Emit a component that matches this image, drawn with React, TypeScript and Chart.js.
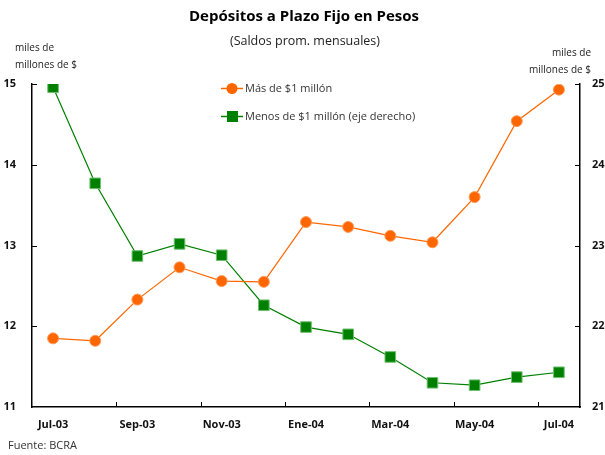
import React, { useEffect, useRef } from "react";
import { Chart, registerables } from "chart.js";

Chart.register(...registerables);

const categories = ["Jul-03", "Ago-03", "Sep-03", "Oct-03", "Nov-03", "Dic-03", "Ene-04", "Feb-04", "Mar-04", "Abr-04", "May-04", "Jun-04", "Jul-04"];
const masDeUnMillon = [11.85, 11.82, 12.33, 12.73, 12.56, 12.55, 13.29, 13.23, 13.12, 13.04, 13.6, 14.54, 14.93];
const menosDeUnMillon = [24.96, 23.77, 22.87, 23.02, 22.88, 22.26, 21.99, 21.9, 21.62, 21.3, 21.27, 21.37, 21.43];
const leftTicks = [11, 12, 13, 14, 15];
const rightTicks = [21, 22, 23, 24, 25];

const title = "Depósitos a Plazo Fijo en Pesos";
const subtitle = "(Saldos prom. mensuales)";
const unitLine1 = "miles de";
const unitLine2 = "millones de $";
const source = "Fuente: BCRA";
const legendLabels = ["Más de $1 millón", "Menos de $1 millón (eje derecho)"];

const ORANGE = "#ff6600";
const GREEN = "#008000";
const FONT = "'Open Sans', sans-serif";

const decorPlugin = {
  id: "decor",
  afterDraw(chart: any) {
    const ctx = chart.ctx;
    const area = chart.chartArea;
    const x = chart.scales.x;
    const yl = chart.scales.y;
    const yr = chart.scales.y1;
    ctx.save();
    // inward tick marks
    ctx.strokeStyle = "#000";
    ctx.lineWidth = 1;
    ctx.beginPath();
    for (let i = 2; i < categories.length; i += 2) {
      const px = Math.round((x.getPixelForValue(i) + x.getPixelForValue(i - 1)) / 2) + 0.5;
      ctx.moveTo(px, area.bottom);
      ctx.lineTo(px, area.bottom - 5);
    }
    for (const v of leftTicks.slice(1)) {
      const py = Math.round(yl.getPixelForValue(v)) + 0.5;
      ctx.moveTo(area.left, py);
      ctx.lineTo(area.left + 5, py);
    }
    for (const v of rightTicks.slice(1)) {
      const py = Math.round(yr.getPixelForValue(v)) + 0.5;
      ctx.moveTo(area.right, py);
      ctx.lineTo(area.right - 5, py);
    }
    ctx.stroke();

    // titles
    ctx.fillStyle = "#000";
    ctx.textAlign = "center";
    ctx.textBaseline = "middle";
    ctx.font = `bold 15px ${FONT}`;
    ctx.fillText(title, 304, 17);
    ctx.fillStyle = "#222";
    ctx.font = `12.5px ${FONT}`;
    ctx.fillText(subtitle, 305, 41);

    // unit labels
    ctx.font = `10px ${FONT}`;
    ctx.textAlign = "left";
    ctx.fillText(unitLine1, 15, 48);
    ctx.fillText(unitLine2, 15, 65);
    ctx.textAlign = "right";
    ctx.fillText(unitLine1, 591, 53);
    ctx.fillText(unitLine2, 591, 70);

    // source
    ctx.textAlign = "left";
    ctx.font = `11px ${FONT}`;
    ctx.fillStyle = "#333";
    ctx.fillText(source, 8, 446);

    // legend
    const colors = [ORANGE, GREEN];
    const ys = [88, 116];
    for (let i = 0; i < 2; i++) {
      const ly = ys[i];
      ctx.strokeStyle = colors[i];
      ctx.lineWidth = 1.5;
      ctx.beginPath();
      ctx.moveTo(221, ly + 0.5);
      ctx.lineTo(243, ly + 0.5);
      ctx.stroke();
      ctx.fillStyle = colors[i];
      if (i === 0) {
        ctx.beginPath();
        ctx.arc(232, ly + 0.5, 5.5, 0, Math.PI * 2);
        ctx.fill();
      } else {
        ctx.fillRect(227, ly - 5, 11, 11);
      }
      ctx.fillStyle = "#333";
      ctx.font = `11px ${FONT}`;
      ctx.textAlign = "left";
      ctx.fillText(legendLabels[i], 245, ly + 1);
    }
    ctx.restore();
  },
};

export default function App() {
  const ref = useRef<HTMLCanvasElement | null>(null);
  useEffect(() => {
    if (!ref.current) return;
    const chart = new Chart(ref.current, {
      type: "line",
      data: {
        labels: categories,
        datasets: [
          {
            label: legendLabels[0],
            data: masDeUnMillon,
            borderColor: ORANGE,
            backgroundColor: ORANGE,
            pointBackgroundColor: ORANGE,
            pointBorderColor: "#ff9a5a",
            pointBorderWidth: 1,
            borderWidth: 1.2,
            pointStyle: "circle",
            pointRadius: 5.5,
            yAxisID: "y",
            tension: 0,
          },
          {
            label: legendLabels[1],
            data: menosDeUnMillon,
            borderColor: GREEN,
            backgroundColor: GREEN,
            pointBackgroundColor: GREEN,
            pointBorderColor: "#6fbf6f",
            pointBorderWidth: 1,
            borderWidth: 1.2,
            pointStyle: "rect",
            pointRadius: 7.5,
            yAxisID: "y1",
            tension: 0,
          },
        ],
      },
      options: {
        responsive: false,
        animation: false,
        layout: { padding: { top: 84, left: 0, right: 0, bottom: 0 } },
        plugins: {
          legend: { display: false },
          title: { display: false },
          tooltip: { enabled: false },
        },
        scales: {
          x: {
            type: "category",
            offset: true,
            grid: { display: false },
            border: { display: true, color: "#000", width: 1.5 },
            ticks: {
              autoSkip: false,
              maxRotation: 0,
              padding: 3,
              color: "#111",
              font: { family: FONT, size: 11, weight: "bold" },
              callback: (_v: any, i: number) => (i % 2 === 0 ? categories[i] : ""),
            },
            afterFit: (s: any) => {
              s.height = 48;
            },
          },
          y: {
            position: "left",
            min: 11,
            max: 15,
            grid: { display: false },
            border: { display: true, color: "#000", width: 1.5 },
            ticks: {
              stepSize: 1,
              padding: 8,
              color: "#111",
              font: { family: FONT, size: 11, weight: "bold" },
            },
            afterFit: (s: any) => {
              s.width = 32;
            },
          },
          y1: {
            position: "right",
            min: 21,
            max: 25,
            grid: { display: false },
            border: { display: true, color: "#000", width: 1.5 },
            ticks: {
              stepSize: 1,
              padding: 4,
              color: "#111",
              font: { family: FONT, size: 11, weight: "bold" },
            },
            afterFit: (s: any) => {
              s.width = 25;
            },
          },
        },
      },
      plugins: [decorPlugin],
    } as any);
    return () => chart.destroy();
  }, []);
  return (
    <div style={{ position: "absolute", left: 0, top: 0, width: 605, height: 455, background: "#fff" }}>
      <canvas ref={ref} width={605} height={455} style={{ display: "block" }} />
    </div>
  );
}
